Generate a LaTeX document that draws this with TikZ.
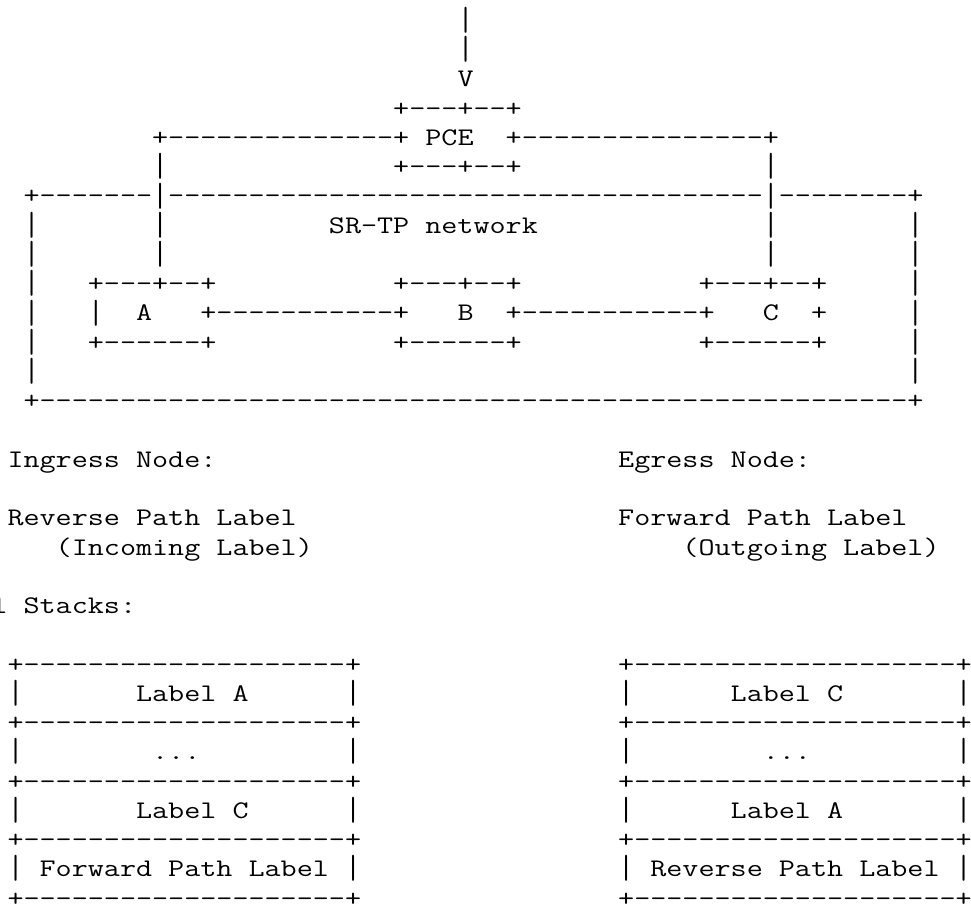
\documentclass[tikz,border=0pt]{standalone}
\usepackage{graphicx}
\ExplSyntaxOn
% a run of n hyphens, kept apart so that no dash ligature can form
\cs_new:Npn \dashrun #1 { \prg_replicate:nn {#1} { - \kern 0pt } }
\ExplSyntaxOff
\newcommand\asciifont{\ttfamily\fontsize{19pt}{20pt}\selectfont\frenchspacing}
\newlength\monopitch
% a bar glyph stretched to fill its text line, so that stacked bars join up
\newcommand\vbar{\sbox0{|}\raisebox{-3.75pt}{\resizebox*{\wd0}{19.5pt}{\raisebox{\dp0}{\usebox0}}}}
% \asciiat{name}{column}{row}{text}: text set on the character grid
\newcommand\asciiat[4]{%
  \node[asc] (#1) at ({-8.535+16.07*(#2)},{28.5+29.25*(#3)}) {\scalebox{\xs}[1]{#4}};}
\tikzset{asc/.style={inner sep=0pt, outer sep=0pt, anchor=base west,
  font=\asciifont, text=black}}
\begin{document}
\settowidth{\monopitch}{\asciifont M}%
\pgfmathsetmacro\xs{12.0525/\the\monopitch}%
\begin{tikzpicture}[x=0.75pt,y=-0.75pt]
\fill[white] (0,0) rectangle (971,905);
\useasboundingbox (0,0) rectangle (971,905);

% request arriving at the PCE
\asciiat{feedA}{29}{0}{\vbar}
\asciiat{feedB}{29}{1}{\vbar}
\asciiat{feedV}{29}{2}{V}
\asciiat{pceTop}{25}{3}{+\dashrun{3}+\dashrun{2}+}
\asciiat{pceWestLink}{10}{4}{+\dashrun{14}+}
\asciiat{pce}{27}{4}{PCE}
\asciiat{pceEastLink}{32}{4}{+\dashrun{15}+}
\asciiat{dropA5}{10}{5}{\vbar}
\asciiat{pceBot}{25}{5}{+\dashrun{3}+\dashrun{2}+}
\asciiat{dropC5}{48}{5}{\vbar}

% SR-TP network frame
\asciiat{netTop}{2}{6}{+\dashrun{7}\vbar\dashrun{37}\vbar\dashrun{8}+}
\asciiat{netW7}{2}{7}{\vbar}
\asciiat{dropA7}{10}{7}{\vbar}
\asciiat{netLabel}{21}{7}{SR-TP network}
\asciiat{dropC7}{48}{7}{\vbar}
\asciiat{netE7}{57}{7}{\vbar}
\asciiat{netW8}{2}{8}{\vbar}
\asciiat{dropA8}{10}{8}{\vbar}
\asciiat{dropC8}{48}{8}{\vbar}
\asciiat{netE8}{57}{8}{\vbar}

% nodes A, B, C and their links
\asciiat{netW9}{2}{9}{\vbar}
\asciiat{aTop}{6}{9}{+\dashrun{3}+\dashrun{2}+}
\asciiat{bTop}{25}{9}{+\dashrun{3}+\dashrun{2}+}
\asciiat{cTop}{44}{9}{+\dashrun{3}+\dashrun{2}+}
\asciiat{netE9}{57}{9}{\vbar}
\asciiat{netW10}{2}{10}{\vbar}
\asciiat{aWest}{6}{10}{\vbar}
\asciiat{nodeA}{9}{10}{A}
\asciiat{linkAB}{13}{10}{+\dashrun{11}+}
\asciiat{nodeB}{29}{10}{B}
\asciiat{linkBC}{32}{10}{+\dashrun{11}+}
\asciiat{nodeC}{48}{10}{C}
\asciiat{cEast}{51}{10}{+}
\asciiat{netE10}{57}{10}{\vbar}
\asciiat{netW11}{2}{11}{\vbar}
\asciiat{aBot}{6}{11}{+\dashrun{6}+}
\asciiat{bBot}{25}{11}{+\dashrun{6}+}
\asciiat{cBot}{44}{11}{+\dashrun{6}+}
\asciiat{netE11}{57}{11}{\vbar}
\asciiat{netW12}{2}{12}{\vbar}
\asciiat{netE12}{57}{12}{\vbar}
\asciiat{netBot}{2}{13}{+\dashrun{54}+}

% ingress and egress notes
\asciiat{ingress}{1}{15}{Ingress Node:}
\asciiat{egress}{39}{15}{Egress Node:}
\asciiat{revLabel}{1}{17}{Reverse Path Label}
\asciiat{fwdLabel}{39}{17}{Forward Path Label}
\asciiat{incoming}{4}{18}{(Incoming Label)}
\asciiat{outgoing}{43}{18}{(Outgoing Label)}
\asciiat{stacks}{0}{20}{l Stacks:}

% the two label stacks
\foreach \r [count=\i] in {22,24,26,28,30} {
  \asciiat{ruleL\i}{1}{\r}{+\dashrun{20}+}
  \asciiat{ruleR\i}{39}{\r}{+\dashrun{20}+}
}
\foreach \r [count=\i] in {23,25,27,29} {
  \asciiat{sideLa\i}{1}{\r}{\vbar}
  \asciiat{sideLb\i}{22}{\r}{\vbar}
  \asciiat{sideRa\i}{39}{\r}{\vbar}
  \asciiat{sideRb\i}{60}{\r}{\vbar}
}
\asciiat{stackLA}{9}{23}{Label A}
\asciiat{stackLdots}{10}{25}{...}
\asciiat{stackLC}{9}{27}{Label C}
\asciiat{stackLfwd}{3}{29}{Forward Path Label}
\asciiat{stackRC}{46}{23}{Label C}
\asciiat{stackRdots}{48}{25}{...}
\asciiat{stackRA}{46}{27}{Label A}
\asciiat{stackRrev}{41}{29}{Reverse Path Label}
\end{tikzpicture}
\end{document}
